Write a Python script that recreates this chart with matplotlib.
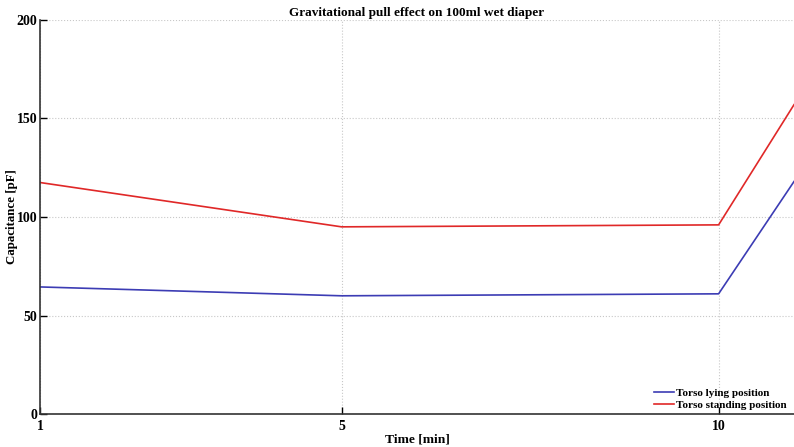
import matplotlib.pyplot as plt

time_min = [1, 5, 10, 11]
lying_pf = [64.5, 60.0, 61.0, 118.0]
standing_pf = [117.5, 95.0, 96.0, 157.0]
x_ticks = [1, 5, 10]
y_ticks = [0, 50, 100, 150, 200]

plt.rcParams["font.family"] = ["Liberation Serif", "DejaVu Serif"]
plt.rcParams["font.weight"] = "bold"

fig = plt.figure(figsize=(7.94, 4.47), dpi=100)
ax = fig.add_axes([0.0504, 0.0738, 0.9496, 0.8815])

ax.plot(time_min, lying_pf, color="#3c3cb4", linewidth=1.2, label="Torso lying position")
ax.plot(time_min, standing_pf, color="#e02828", linewidth=1.2, label="Torso standing position")

ax.set_xlim(1, 11)
ax.set_ylim(0, 200)
ax.set_xticks(x_ticks)
ax.set_yticks(y_ticks)
ax.tick_params(direction="in", length=5, width=1, labelsize=10)
ax.tick_params(axis="x", pad=4)
ax.tick_params(axis="y", pad=2)
ax.grid(True, linestyle=":", color="#c8c8c8", linewidth=0.8)

for side in ["top", "right"]:
    ax.spines[side].set_visible(False)
for side in ["left", "bottom"]:
    ax.spines[side].set_linewidth(1.2)
    ax.spines[side].set_color("#333333")

ax.set_title("Gravitational pull effect on 100ml wet diaper", fontsize=9.5, fontweight="bold", pad=3)
ax.set_xlabel("Time [min]", fontsize=9.7, fontweight="bold", labelpad=1)
ax.set_ylabel("Capacitance [pF]", fontsize=9.3, fontweight="bold")
ax.yaxis.set_label_coords(-0.0295, 0.5)

ax.legend(loc="lower right", frameon=False, fontsize=8, handlelength=1.8,
          handletextpad=0.2, labelspacing=0.2, borderaxespad=0.0,
          bbox_to_anchor=(0.996, 0.0))

plt.savefig("out.png", dpi=100)
plt.close()
